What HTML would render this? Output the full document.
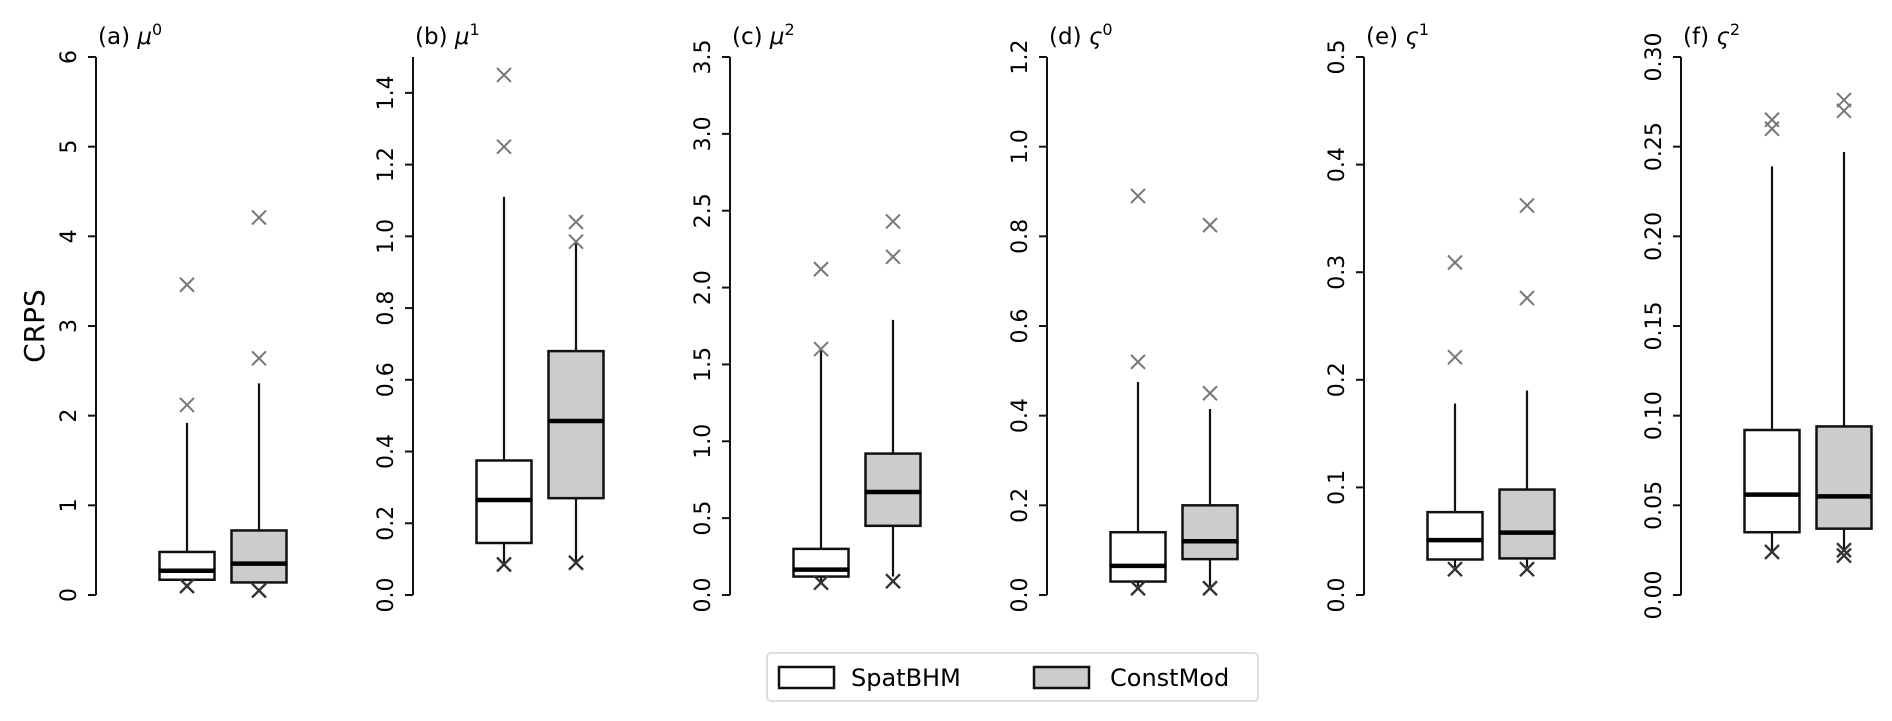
<!DOCTYPE html>
<html><head><meta charset="utf-8"><style>
html,body{margin:0;padding:0;background:#fff;}
svg{display:block;font-family:"DejaVu Sans","Liberation Sans",sans-serif;}
</style></head><body>
<svg id="s" width="1892" height="721" viewBox="0 0 1892 721" xmlns="http://www.w3.org/2000/svg">
<rect width="1892" height="721" fill="#fff"/>
<text x="0" y="0" font-size="28" text-anchor="middle" transform="translate(44,326) rotate(-90)">CRPS</text>
<rect x="767" y="653" width="491" height="48" rx="4" fill="#fff" stroke="#ddd" stroke-width="2"/>
<rect x="779" y="667" width="55" height="21" fill="#fff" stroke="#111" stroke-width="2.5"/>
<text x="851" y="686" font-size="24">SpatBHM</text>
<rect x="1034" y="667" width="55" height="21" fill="#ccc" stroke="#111" stroke-width="2.5"/>
<text x="1110" y="686" font-size="24">ConstMod</text>
</svg>
<script>
var S=document.getElementById('s'),NS='http://www.w3.org/2000/svg';
function el(t,a,txt){var e=document.createElementNS(NS,t);for(var k in a)e.setAttribute(k,a[k]);if(txt!=null)e.textContent=txt;S.appendChild(e);return e;}
var T=57,B=595;
var P=[
 {t:'(a) ',g:'μ',sup:'0',max:6,ticks:[0,1,2,3,4,5,6],dec:0,
  b:[{lo:0.17,q1:0.17,med:0.27,q3:0.48,hi:1.92,out:[3.46,2.12],low:[0.1]},
     {lo:0.14,q1:0.14,med:0.35,q3:0.72,hi:2.36,out:[4.21,2.64],low:[0.05]}]},
 {t:'(b) ',g:'μ',sup:'1',max:1.5,ticks:[0,0.2,0.4,0.6,0.8,1.0,1.2,1.4],dec:1,
  b:[{lo:0.09,q1:0.145,med:0.265,q3:0.375,hi:1.11,out:[1.45,1.25],low:[0.085]},
     {lo:0.09,q1:0.27,med:0.485,q3:0.68,hi:0.98,out:[1.04,0.985],low:[0.09]}]},
 {t:'(c) ',g:'μ',sup:'2',max:3.5,ticks:[0,0.5,1,1.5,2,2.5,3,3.5],dec:1,
  b:[{lo:0.09,q1:0.12,med:0.165,q3:0.30,hi:1.6,out:[2.12,1.6],low:[0.08]},
     {lo:0.12,q1:0.45,med:0.67,q3:0.92,hi:1.79,out:[2.43,2.2],low:[0.09]}]},
 {t:'(d) ',g:'ς',sup:'0',max:1.2,ticks:[0,0.2,0.4,0.6,0.8,1.0,1.2],dec:1,
  b:[{lo:0.02,q1:0.03,med:0.065,q3:0.14,hi:0.475,out:[0.89,0.52],low:[0.015]},
     {lo:0.02,q1:0.08,med:0.12,q3:0.2,hi:0.415,out:[0.825,0.45],low:[0.015]}]},
 {t:'(e) ',g:'ς',sup:'1',max:0.5,ticks:[0,0.1,0.2,0.3,0.4,0.5],dec:1,
  b:[{lo:0.026,q1:0.033,med:0.051,q3:0.077,hi:0.178,out:[0.309,0.221],low:[0.024]},
     {lo:0.026,q1:0.034,med:0.058,q3:0.098,hi:0.19,out:[0.362,0.276],low:[0.024]}]},
 {t:'(f) ',g:'ς',sup:'2',max:0.30,ticks:[0,0.05,0.1,0.15,0.2,0.25,0.3],dec:2,
  b:[{lo:0.025,q1:0.035,med:0.056,q3:0.092,hi:0.239,out:[0.265,0.26],low:[0.024]},
     {lo:0.025,q1:0.037,med:0.055,q3:0.094,hi:0.247,out:[0.276,0.27],low:[0.025,0.022]}]}
];
function X(cx,cy,c,w){var r=7;el('path',{d:'M'+(cx-r)+' '+(cy-r)+'L'+(cx+r)+' '+(cy+r)+'M'+(cx-r)+' '+(cy+r)+'L'+(cx+r)+' '+(cy-r),stroke:c,'stroke-width':w,fill:'none'});}
P.forEach(function(p,i){
 var ax=96+317*i;
 function y(v){return B-(B-T)*v/p.max;}
 el('line',{x1:ax,y1:T,x2:ax,y2:B,stroke:'#111','stroke-width':2});
 p.ticks.forEach(function(v){var yy=y(v);
  el('line',{x1:ax-8,y1:yy,x2:ax,y2:yy,stroke:'#111','stroke-width':2});
  el('text',{x:0,y:0,'font-size':22,'text-anchor':'middle',transform:'translate('+(ax-20)+','+yy+') rotate(-90)'},v.toFixed(p.dec));
 });
 var t=el('text',{x:ax+2,y:44,'font-size':23});
 var s1=document.createElementNS(NS,'tspan');s1.textContent=p.t;t.appendChild(s1);
 var s2=document.createElementNS(NS,'tspan');s2.setAttribute('font-style','italic');s2.textContent=p.g;t.appendChild(s2);
 var s3=document.createElementNS(NS,'tspan');s3.setAttribute('dy','-9');s3.setAttribute('font-size','16');s3.textContent=p.sup;t.appendChild(s3);
 p.b.forEach(function(b,j){
  var cx=ax+(j?163:91),hw=27.5;
  el('line',{x1:cx,y1:y(b.q3),x2:cx,y2:y(b.hi),stroke:'#111','stroke-width':2.2});
  el('line',{x1:cx,y1:y(b.q1),x2:cx,y2:y(b.lo),stroke:'#111','stroke-width':2.2});
  el('rect',{x:cx-hw,y:y(b.q3),width:2*hw,height:y(b.q1)-y(b.q3),fill:j?'#ccc':'#fff',stroke:'#111','stroke-width':2.5});
  el('line',{x1:cx-hw-1,y1:y(b.med),x2:cx+hw+1,y2:y(b.med),stroke:'#000','stroke-width':4.5});
  b.out.forEach(function(v){X(cx,y(v),'#777',2);});
  b.low.forEach(function(v){X(cx,y(v),'#333',2.4);});
 });
});
</script>
</body></html>
